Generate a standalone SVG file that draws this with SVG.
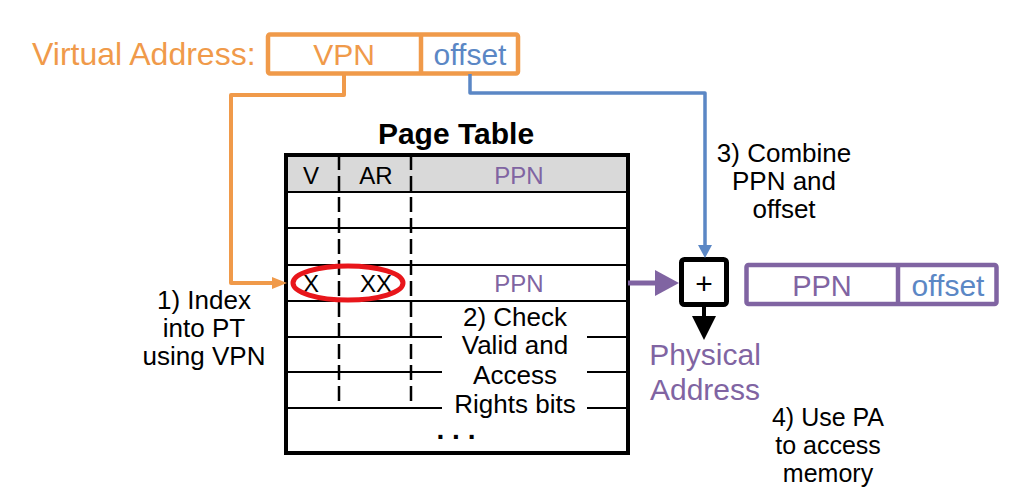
<svg xmlns="http://www.w3.org/2000/svg" width="1012" height="499" viewBox="0 0 1012 499">
<style>
text{font-family:"Liberation Sans",Arial,sans-serif;text-anchor:middle}
.or{fill:#F09A4A}.bl{fill:#5B87C5}.pu{fill:#8064A2}.bk{fill:#000}
.lbl{font-size:26px}
.cell{font-size:24px}
.grid{stroke:#000;stroke-width:2;fill:none}
.dash{stroke:#000;stroke-width:2.5;stroke-dasharray:15 6;fill:none}
</style>
<rect width="1012" height="499" fill="#fff"/>

<g id="virtual-address">
<text x="32" y="65" class="or" style="text-anchor:start;font-size:32px">Virtual Address:</text>
<rect x="268" y="34.5" width="250" height="39" rx="2" fill="#fff" stroke="#F09A4A" stroke-width="4.5"/>
<line x1="421" y1="34.5" x2="421" y2="73.5" stroke="#F09A4A" stroke-width="4.5"/>
<text x="344" y="65" class="or" style="font-size:30px">VPN</text>
<text x="470" y="65" class="bl" style="font-size:30px">offset</text>
</g>

<g id="page-table">
<text x="456" y="144" style="font-size:30px;font-weight:bold">Page Table</text>
<rect x="286" y="155" width="342" height="37" fill="#D9D9D9"/>
<g class="grid">
<line x1="286" y1="192" x2="628" y2="192"/>
<line x1="286" y1="228" x2="628" y2="228"/>
<line x1="286" y1="265" x2="628" y2="265"/>
<line x1="286" y1="301" x2="628" y2="301"/>
<line x1="286" y1="337" x2="628" y2="337"/>
<line x1="286" y1="372" x2="628" y2="372"/>
<line x1="286" y1="408" x2="628" y2="408"/>
</g>
<line x1="339" y1="155" x2="339" y2="408" class="dash"/>
<line x1="411" y1="155" x2="411" y2="408" class="dash"/>
<rect x="286" y="155" width="342" height="298" fill="none" stroke="#000" stroke-width="4"/>
<text x="311" y="184" class="cell">V</text>
<text x="376" y="184" class="cell">AR</text>
<text x="519" y="184" class="cell pu">PPN</text>
<text x="311" y="292" class="cell">X</text>
<text x="376" y="292" class="cell">XX</text>
<text x="519" y="292" class="cell pu">PPN</text>
<ellipse cx="348" cy="283" rx="55" ry="17" fill="none" stroke="#E8161B" stroke-width="5"/>
<text x="456" y="439" style="font-size:28px;font-weight:bold">. . .</text>
</g>

<g id="step2">
<rect x="442" y="304" width="145" height="114" fill="#fff"/>
<text x="515" y="326" class="lbl">2) Check</text>
<text x="515" y="354" class="lbl">Valid and</text>
<text x="515" y="384" class="lbl">Access</text>
<text x="515" y="413" class="lbl">Rights bits</text>
</g>

<g id="step1">
<text x="204" y="309" class="lbl">1) Index</text>
<text x="204" y="337" class="lbl">into PT</text>
<text x="204" y="365" class="lbl">using VPN</text>
</g>

<g id="step3">
<text x="784" y="162" class="lbl">3) Combine</text>
<text x="784" y="190" class="lbl">PPN and</text>
<text x="784" y="218" class="lbl">offset</text>
</g>

<g id="adder">
<rect x="681.5" y="259.5" width="45" height="45" rx="3" fill="#fff" stroke="#000" stroke-width="5"/>
<text x="704" y="294" style="font-size:30px">+</text>
</g>

<g id="physical-address">
<rect x="746.5" y="265" width="250" height="39" rx="2" fill="#fff" stroke="#8064A2" stroke-width="4.5"/>
<line x1="898" y1="265" x2="898" y2="304" stroke="#8064A2" stroke-width="4.5"/>
<text x="822" y="296" class="pu" style="font-size:29px">PPN</text>
<text x="948" y="296" class="bl" style="font-size:30px">offset</text>
<text x="705" y="365" class="pu" style="font-size:30px">Physical</text>
<text x="705" y="400" class="pu" style="font-size:30px">Address</text>
</g>

<g id="step4">
<text x="828" y="426" style="font-size:25px">4) Use PA</text>
<text x="828" y="454" style="font-size:25px">to access</text>
<text x="828" y="482" style="font-size:25px">memory</text>
</g>

<g id="connectors">
<polyline points="344,74 344,95 231,95 231,283 274,283" fill="none" stroke="#F09A4A" stroke-width="4" stroke-linejoin="round"/>
<polygon points="272,277 287,283 272,289" fill="#F09A4A"/>
<polyline points="470,74 470,93 705,93 705,247" fill="none" stroke="#5B87C5" stroke-width="3.5" stroke-linejoin="round"/>
<polygon points="698,245 705,258 712,245" fill="#5B87C5"/>
<line x1="628" y1="283" x2="657" y2="283" stroke="#8064A2" stroke-width="5"/>
<polygon points="655,270 679,283 655,296" fill="#8064A2"/>
<line x1="704" y1="306" x2="704" y2="318" stroke="#000" stroke-width="4"/>
<polygon points="692,316 704,340 716,316" fill="#000"/>
</g>
</svg>
